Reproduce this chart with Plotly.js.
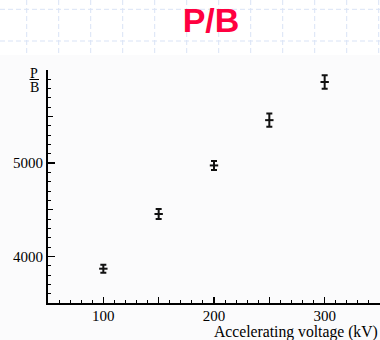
<!DOCTYPE html>
<html>
<head>
<meta charset="utf-8">
<script src="https://cdn.plot.ly/plotly-3.0.1.min.js"></script>
<style>html,body{margin:0;padding:0;background:#fff;}#chart{width:380px;height:340px;}</style>
</head>
<body>
<div id="chart"></div>
<script>
// Data
var voltage = [100, 150, 200, 250, 300];          // kV
var pOverB = [3868, 4455, 4976, 5462, 5871];
var pOverBErr = [43, 54, 48, 72, 72];
var xTickVals = [100, 200, 300];
var yTickVals = [4000, 5000];

var W = 380, H = 340, ML = 48, MR = 0, MT = 70, MB = 37;
var PW = W - ML - MR, PH = H - MT - MB;
function px(x) { return (x - ML) / PW; }
function py(y) { return (H - MB - y) / PH; }

var serif = 'Liberation Serif';
var shapes = [];
// slide background: white top strip with dashed light blue grid
shapes.push({type: 'rect', xref: 'paper', yref: 'paper', x0: px(0), x1: px(W), y0: py(0), y1: py(55),
  fillcolor: '#ffffff', line: {width: 0}, layer: 'below'});
for (var gx = 26.7; gx < W; gx += 32) {
  shapes.push({type: 'line', xref: 'paper', yref: 'paper', x0: px(gx), x1: px(gx), y0: py(0), y1: py(55),
    line: {color: '#d9e3f6', width: 1, dash: '5px,3px'}, layer: 'below'});
}
[9.3, 41].forEach(function (gy) {
  shapes.push({type: 'line', xref: 'paper', yref: 'paper', x0: px(0), x1: px(W), y0: py(gy), y1: py(gy),
    line: {color: '#d9e3f6', width: 1, dash: '5px,3px'}, layer: 'below'});
});
// fraction bar of the P/B axis label
shapes.push({type: 'line', xref: 'paper', yref: 'paper', x0: px(29.5), x1: px(39), y0: py(79.5), y1: py(79.5),
  line: {color: '#000', width: 1}});

var traces = [{
  type: 'scatter', mode: 'markers', x: voltage, y: pOverB,
  marker: {symbol: 'line-ew', size: 6, color: '#111', line: {color: '#111', width: 2}},
  error_y: {type: 'data', array: pOverBErr, visible: true, color: '#111', thickness: 2, width: 3},
  hoverinfo: 'skip', showlegend: false
}, {
  type: 'scatter', mode: 'markers', x: [], y: [], xaxis: 'x2', yaxis: 'y2',
  hoverinfo: 'skip', showlegend: false
}];

var layout = {
  width: W, height: H,
  margin: {l: ML, r: MR, t: MT, b: MB, pad: 0},
  paper_bgcolor: '#fbfbfc', plot_bgcolor: '#fbfbfc',
  showlegend: false,
  title: {text: 'P/B', font: {family: 'Liberation Sans', size: 34, color: '#ff0040', weight: 'bold'},
    xref: 'container', yref: 'container', x: 211 / W, y: 1 - 20 / H, xanchor: 'center', yanchor: 'middle'},
  xaxis: {range: [50, 350], tickmode: 'array', tickvals: xTickVals, ticks: 'inside', ticklen: 6, tickwidth: 1.5,
    tickcolor: '#000', showline: true, linecolor: '#000', linewidth: 2, showgrid: false, zeroline: false,
    ticklabelstandoff: -2,
    tickfont: {family: serif, size: 15, color: '#000'}, fixedrange: true},
  yaxis: {range: [3500, 6000], tickmode: 'array', tickvals: yTickVals, ticks: 'inside', ticklen: 7, tickwidth: 1.5,
    tickcolor: '#000', showline: true, linecolor: '#000', linewidth: 2, showgrid: false, zeroline: false,
    tickfont: {family: serif, size: 15, color: '#000'}, fixedrange: true},
  xaxis2: {overlaying: 'x', anchor: 'y2', side: 'bottom', range: [50, 350], tickmode: 'linear', tick0: 50, dtick: 50,
    ticks: 'inside', ticklen: 6, tickwidth: 1.2, tickcolor: '#000', showticklabels: false, showgrid: false,
    zeroline: false, showline: false,
    minor: {tickmode: 'linear', tick0: 50, dtick: 10, ticks: 'inside', ticklen: 3, tickwidth: 1, tickcolor: '#000', showgrid: false}},
  yaxis2: {overlaying: 'y', anchor: 'x2', side: 'left', range: [3500, 6000], tickmode: 'linear', tick0: 3500, dtick: 500,
    ticks: 'inside', ticklen: 5, tickwidth: 1.2, tickcolor: '#000', showticklabels: false, showgrid: false,
    zeroline: false, showline: false,
    minor: {tickmode: 'linear', tick0: 3500, dtick: 100, ticks: 'inside', ticklen: 3, tickwidth: 1, tickcolor: '#000', showgrid: false}},
  shapes: shapes,
  annotations: [
    {text: 'Accelerating voltage (kV)', xref: 'paper', yref: 'paper', x: px(378.5), y: py(331.5),
      xanchor: 'right', yanchor: 'middle', showarrow: false, borderpad: 0,
      font: {family: serif, size: 15.7, color: '#000'}},
    {text: 'P', xref: 'paper', yref: 'paper', x: px(34.3), y: py(73), xanchor: 'center', yanchor: 'middle',
      showarrow: false, height: 12, borderpad: 0, font: {family: serif, size: 14, color: '#000'}},
    {text: 'B', xref: 'paper', yref: 'paper', x: px(34.3), y: py(86.5), xanchor: 'center', yanchor: 'middle',
      showarrow: false, height: 12, borderpad: 0, font: {family: serif, size: 14, color: '#000'}}
  ]
};

Plotly.newPlot('chart', traces, layout, {displayModeBar: false, staticPlot: true});
</script>
</body>
</html>
